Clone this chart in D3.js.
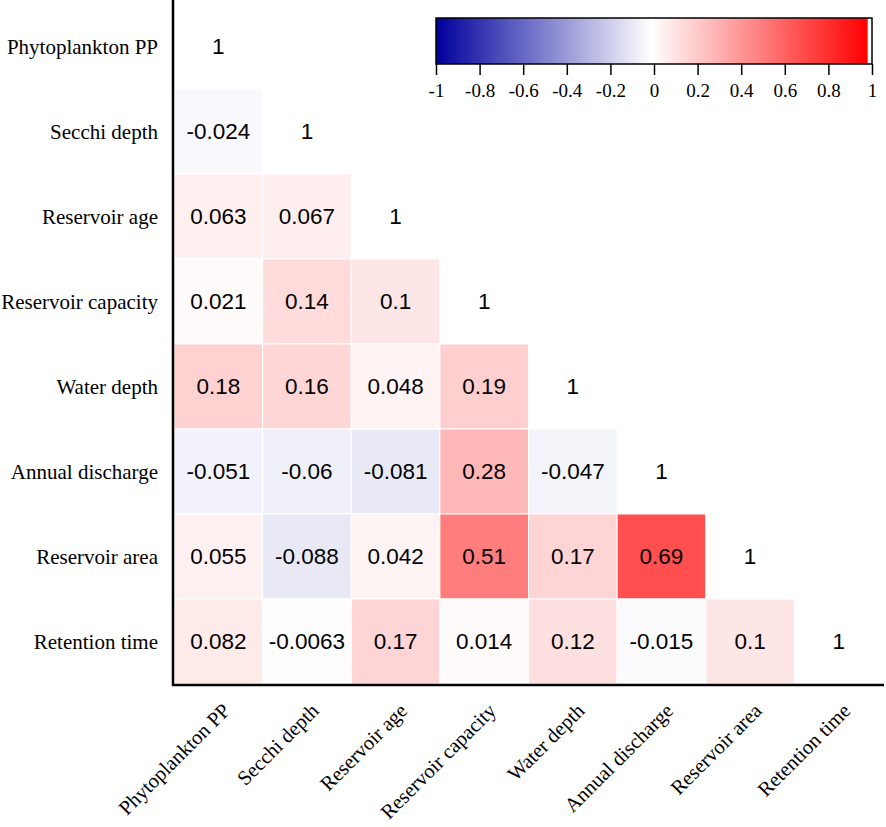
<!DOCTYPE html>
<html>
<head>
<meta charset="utf-8">
<script src="https://cdn.jsdelivr.net/npm/d3@7"></script>
<style>
  body { margin: 0; background: #fff; }
  svg { display: block; }
</style>
</head>
<body>
<svg id="chart" width="886" height="827"></svg>
<script>
// variables, in row / column order
const variables = [
  "Phytoplankton PP", "Secchi depth", "Reservoir age", "Reservoir capacity",
  "Water depth", "Annual discharge", "Reservoir area", "Retention time"
];

// lower triangle of the correlation matrix (row i has i+1 values, last is diagonal)
const corrRows = [
  [1],
  [-0.024, 1],
  [0.063, 0.067, 1],
  [0.021, 0.14, 0.1, 1],
  [0.18, 0.16, 0.048, 0.19, 1],
  [-0.051, -0.06, -0.081, 0.28, -0.047, 1],
  [0.055, -0.088, 0.042, 0.51, 0.17, 0.69, 1],
  [0.082, -0.0063, 0.17, 0.014, 0.12, -0.015, 0.1, 1]
];

const legendTicks = [-1, -0.8, -0.6, -0.4, -0.2, 0, 0.2, 0.4, 0.6, 0.8, 1];

const svg = d3.select("#chart");
const serif = "'Liberation Serif', 'Times New Roman', serif";

const x = d3.scaleBand().domain(variables).range([174, 883]).padding(0);
const y = d3.scaleBand().domain(variables).range([4, 684]).padding(0);

const color = d3.scaleLinear()
    .domain([-1, 0, 1])
    .range(["#00009c", "#ffffff", "#ff0000"]);

// flatten the triangle into cells
const cells = corrRows.flatMap((row, i) =>
    row.map((v, j) => ({ row: variables[i], col: variables[j], v, diag: i === j }))
);

svg.append("g").selectAll("rect")
    .data(cells.filter(d => !d.diag))
    .join("rect")
      .attr("x", d => x(d.col))
      .attr("y", d => y(d.row))
      .attr("width", x.bandwidth())
      .attr("height", y.bandwidth())
      .attr("fill", d => color(d.v))
      .attr("stroke", "#fff")
      .attr("stroke-width", 1);

svg.append("g").selectAll("text")
    .data(cells)
    .join("text")
      .attr("x", d => x(d.col) + x.bandwidth() / 2)
      .attr("y", d => y(d.row) + y.bandwidth() / 2)
      .attr("text-anchor", "middle")
      .attr("dominant-baseline", "central")
      .style("font-family", "'Liberation Sans', Arial, sans-serif")
      .style("font-size", "22.5px")
      .attr("fill", "#000")
      .text(d => d.v);

// row labels
svg.append("g").selectAll("text")
    .data(variables)
    .join("text")
      .attr("x", 158)
      .attr("y", d => y(d) + y.bandwidth() / 2)
      .attr("text-anchor", "end")
      .attr("dominant-baseline", "central")
      .style("font-family", serif)
      .style("font-size", "21px")
      .text(d => d);

// column labels, rotated
svg.append("g").selectAll("text")
    .data(variables)
    .join("text")
      .attr("transform", d => `translate(${x(d) + x.bandwidth() / 2 + 13},${712}) rotate(-45)`)
      .attr("text-anchor", "end")
      .style("font-family", serif)
      .style("font-size", "20.5px")
      .text(d => d);

// axes lines
svg.append("line")
    .attr("x1", 173).attr("x2", 173)
    .attr("y1", 0).attr("y2", 686)
    .attr("stroke", "#000").attr("stroke-width", 2.5);
svg.append("line")
    .attr("x1", 172).attr("x2", 884)
    .attr("y1", 685).attr("y2", 685)
    .attr("stroke", "#000").attr("stroke-width", 2.5);

// colour bar legend
const lx = d3.scaleLinear().domain([-1, 1]).range([436, 872]);
const barTop = 18, barH = 46;

const grad = svg.append("defs").append("linearGradient")
    .attr("id", "cbar")
    .attr("x1", "0%").attr("x2", "100%");
d3.range(0, 1.0001, 0.05).forEach(t => {
  grad.append("stop")
      .attr("offset", `${t * 100}%`)
      .attr("stop-color", color(-1 + 2 * t));
});

svg.append("rect")
    .attr("x", lx(-1))
    .attr("y", barTop)
    .attr("width", lx(0.98) - lx(-1))
    .attr("height", barH)
    .attr("fill", "url(#cbar)");
svg.append("rect")
    .attr("x", lx(-1))
    .attr("y", barTop)
    .attr("width", lx(1) - lx(-1))
    .attr("height", barH)
    .attr("fill", "none")
    .attr("stroke", "#000")
    .attr("stroke-width", 1.5);

const legendAxis = d3.axisBottom(lx)
    .tickValues(legendTicks)
    .tickSize(11)
    .tickPadding(9)
    .tickFormat(d => d);

const lg = svg.append("g")
    .attr("transform", `translate(0,${barTop + barH})`)
    .call(legendAxis);
lg.select(".domain").remove();
lg.selectAll(".tick line").attr("stroke", "#000").attr("stroke-width", 1.5);
lg.selectAll(".tick text")
    .style("font-family", serif)
    .style("font-size", "19px")
    .attr("fill", "#000");
</script>
</body>
</html>
